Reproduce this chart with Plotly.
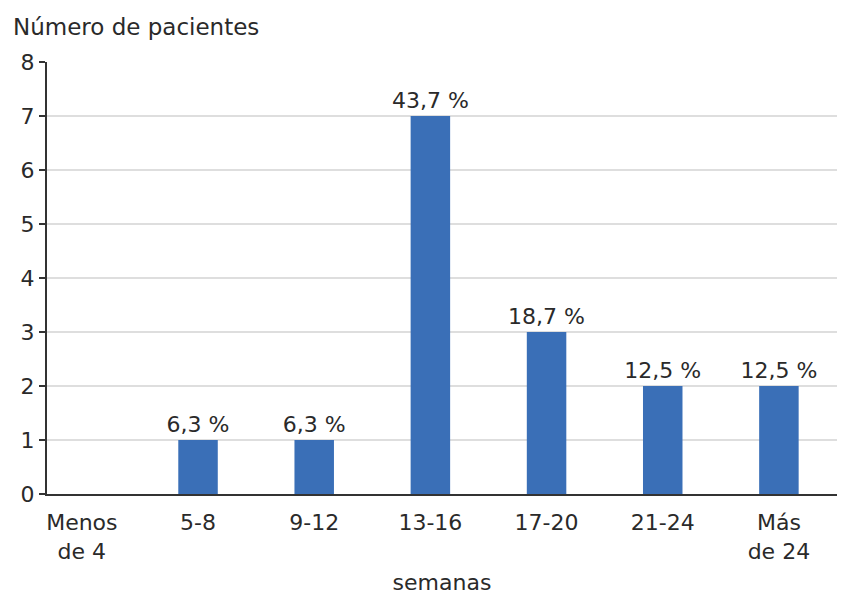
import plotly.graph_objects as go

# Patients grouped by weeks
categorias = ["Menos<br>de 4", "5-8", "9-12", "13-16", "17-20", "21-24", "Más<br>de 24"]
pacientes = [0, 1, 1, 7, 3, 2, 2]
porcentajes = ["", "6,3 %", "6,3 %", "43,7 %", "18,7 %", "12,5 %", "12,5 %"]
y_ticks = [0, 1, 2, 3, 4, 5, 6, 7, 8]

FONT = "DejaVu Sans"
TXT = "#2a2a2a"
AXIS = "#333333"
SIZE = 22

fig = go.Figure()
fig.add_trace(go.Bar(
    x=list(range(len(categorias))),
    y=pacientes,
    text=porcentajes,
    textposition="outside",
    constraintext="none",
    cliponaxis=False,
    textfont=dict(family=FONT, size=SIZE, color=TXT),
    marker=dict(color="#3a6fb7", line=dict(width=0)),
    width=0.34,
    hoverinfo="skip",
))

fig.update_layout(
    width=844, height=595,
    margin=dict(l=47, r=7, t=62, b=101),
    paper_bgcolor="white", plot_bgcolor="white",
    showlegend=False,
    font=dict(family=FONT, size=SIZE, color=TXT),
    uniformtext=dict(minsize=SIZE, mode="show"),
    xaxis=dict(
        range=[-0.3, 6.5],
        tickmode="array",
        tickvals=list(range(len(categorias))),
        ticktext=categorias,
        ticks="",
        ticklabelstandoff=8,
        showgrid=False,
        zeroline=False,
        automargin=False,
        showline=True, linecolor=AXIS, linewidth=2,
        title=dict(text="semanas", font=dict(family=FONT, size=SIZE, color=TXT), standoff=24),
        tickfont=dict(family=FONT, size=SIZE, color=TXT),
    ),
    yaxis=dict(
        range=[0, 8],
        tickmode="array",
        tickvals=y_ticks,
        ticks="outside", ticklen=6, tickwidth=2, tickcolor=AXIS,
        showgrid=True, gridcolor="#dedede", gridwidth=2,
        zeroline=False,
        automargin=False,
        showline=True, linecolor=AXIS, linewidth=2,
        tickfont=dict(family=FONT, size=SIZE, color=TXT),
    ),
    annotations=[dict(
        text="Número de pacientes", xref="paper", yref="paper",
        x=0, y=1, xanchor="left", yanchor="bottom",
        xshift=-36, yshift=20, showarrow=False,
        font=dict(family=FONT, size=SIZE + 1, color=TXT),
    )],
)

fig.write_html("out.html")
